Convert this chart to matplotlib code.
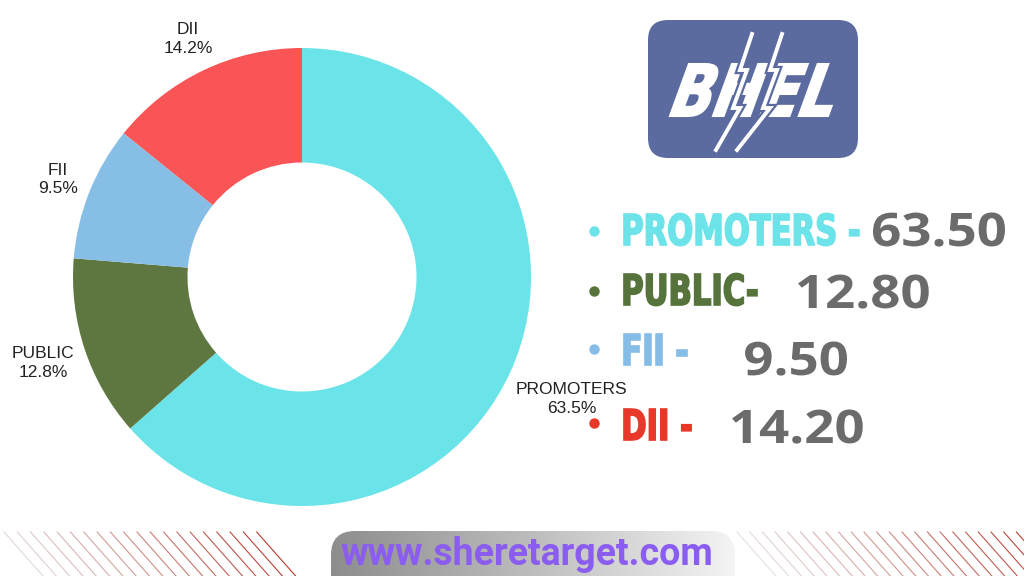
import matplotlib
matplotlib.use("Agg")
import matplotlib.pyplot as plt
import numpy as np
import matplotlib.transforms as mtransforms
from matplotlib import patheffects
from matplotlib.patches import FancyBboxPatch, PathPatch
from matplotlib.textpath import TextPath
from matplotlib.font_manager import FontProperties
from matplotlib.colors import LinearSegmentedColormap, to_rgb

# data
categories = ["PROMOTERS", "PUBLIC", "FII", "DII"]
holding = [63.50, 12.80, 9.50, 14.20]
holding_text = ["63.50", "12.80", "9.50", "14.20"]
legend_names = ["PROMOTERS -", "PUBLIC-", "FII -", "DII -"]
site = "www.sheretarget.com"
logo_text = "BHEL"

# styles
pie_colors = ["#6ae4e8", "#5e763f", "#86bee5", "#fa5556"]
name_colors = ["#6ce3e8", "#55733a", "#86bde6", "#e8382a"]
num_color = "#6b6b6b"
logo_color = "#5b6b9f"

W, H = 1024, 576
heavy = FontProperties(family="DejaVu Sans", weight="bold")
numfont = FontProperties(family="Open Sans", weight="bold")


def py(y):
    # pixel row from top -> data y
    return H - y


def cap_of(prop):
    return TextPath((0, 0), "H", size=100, prop=prop).get_extents().height


def path_text(ax, s, x0, base, cap, sx, color, prop, shear=0.0, z=4, lw=0):
    # draw text as a path: cap height in px, sx = extra horizontal squeeze
    tp = TextPath((0, 0), s, size=100, prop=prop)
    ext = tp.get_extents()
    k = cap / cap_of(prop)
    tr = (mtransforms.Affine2D().translate(-ext.x0, 0).scale(k * sx, k)
          .skew_deg(shear, 0).translate(x0, py(base)))
    p = tr.transform_path(tp)
    ax.add_patch(PathPatch(p, fc=color, ec=color, lw=lw, zorder=z))


def squeeze(s, prop, cap, width):
    tp = TextPath((0, 0), s, size=100, prop=prop)
    return width / (tp.get_extents().width * cap / cap_of(prop))


fig = plt.figure(figsize=(10.24, 5.76), dpi=100)
ax = fig.add_axes([0, 0, 1, 1])

# donut
cx, cy, R = 302, py(277), 229
wedges, _ = ax.pie(holding, colors=pie_colors, startangle=90, counterclock=False,
                   center=(cx, cy), radius=R,
                   wedgeprops=dict(width=R * 0.5, linewidth=0))

renderer = fig.canvas.get_renderer()
total = sum(holding)
for w, name, v in zip(wedges, categories, holding):
    a = np.deg2rad((w.theta1 + w.theta2) / 2)
    t = ax.text(0, 0, f"{name}\n{v / total * 100:.1f}%", ha="center", va="center",
                fontsize=12.5, family="Liberation Sans", color="#222222", linespacing=1.3)
    bb = t.get_window_extent(renderer=renderer)
    d = R + 9 + abs(np.cos(a)) * bb.width / 2 + abs(np.sin(a)) * bb.height / 2
    t.set_position((cx + d * np.cos(a), cy + d * np.sin(a)))

# logo
ax.add_patch(FancyBboxPatch((648, py(158)), 210, 138,
                            boxstyle="round,pad=0,rounding_size=20",
                            fc=logo_color, ec="none"))
path_text(ax, logo_text, 670, 116, 52, squeeze(logo_text, heavy, 52, 158),
          "white", heavy, shear=20, lw=1.5)
bolt_fx = [patheffects.withStroke(linewidth=6, foreground=logo_color)]
for bx in [0, 30]:
    xs = np.array([752, 740, 747, 733, 740, 716]) + bx * np.array([1, 1, 1, 1, 1, 0.7])
    ys = [34, 70, 70, 108, 108, 150]
    ax.plot(xs, [py(y) for y in ys], color="white", lw=2.8, solid_joinstyle="miter",
            path_effects=bolt_fx, zorder=6)

# share list
bullet_y = [231, 291, 349, 423]
name_base = [245, 305, 365, 440]
num_x = [873, 798, 745, 732]
num_base = [246, 308, 375, 443]
name_cap, num_cap = 31, 33
sx_name = squeeze(legend_names[0], heavy, name_cap, 235)
sx_num = squeeze(holding_text[0], numfont, num_cap, 132)
for i in range(len(categories)):
    ax.plot(594, py(bullet_y[i]), "o", ms=7.5, color=name_colors[i], mec="none")
    path_text(ax, legend_names[i], 624, name_base[i], name_cap, sx_name,
              name_colors[i], heavy, lw=1.2)
    path_text(ax, holding_text[i], num_x[i], num_base[i], num_cap, sx_num,
              num_color, numfont)

# bottom strip: hatch lines
def blend(c1, c2, f):
    a, b = np.array(to_rgb(c1)), np.array(to_rgb(c2))
    return a + (b - a) * f

left_x = np.arange(4, 270, 13.3)
for i, x0 in enumerate(left_x):
    ax.plot([x0, x0 + 39], [py(532), py(576)], lw=0.8,
            color=blend("#e2d8d8", "#b7392d", i / (len(left_x) - 1)))
right_x = np.arange(737, 1030, 12.7)
for i, x0 in enumerate(right_x):
    ax.plot([x0, x0 + 39], [py(532), py(576)], lw=0.8,
            color=blend("#e6e1e1", "#b7392d", i / (len(right_x) - 1)))

# bottom strip: url pill
pill = FancyBboxPatch((331, py(600)), 404, 69, boxstyle="round,pad=0,rounding_size=24",
                      fc="none", ec="none")
ax.add_patch(pill)
grad = LinearSegmentedColormap.from_list("g", ["#8d8d8d", "#bdbdbd", "#f4f4f4"])
im = ax.imshow(np.linspace(0, 1, 256).reshape(1, -1), cmap=grad, aspect="auto",
               extent=(331, 735, py(600), py(531)), zorder=1)
im.set_clip_path(pill)
ax.text(340, py(565), site, ha="left", va="baseline", fontsize=27,
        family="Roboto", weight="bold", color="#8b5cf0", zorder=3)

ax.set_xlim(0, W)
ax.set_ylim(0, H)
ax.axis("off")
fig.savefig("out.png", dpi=100, facecolor="white")
